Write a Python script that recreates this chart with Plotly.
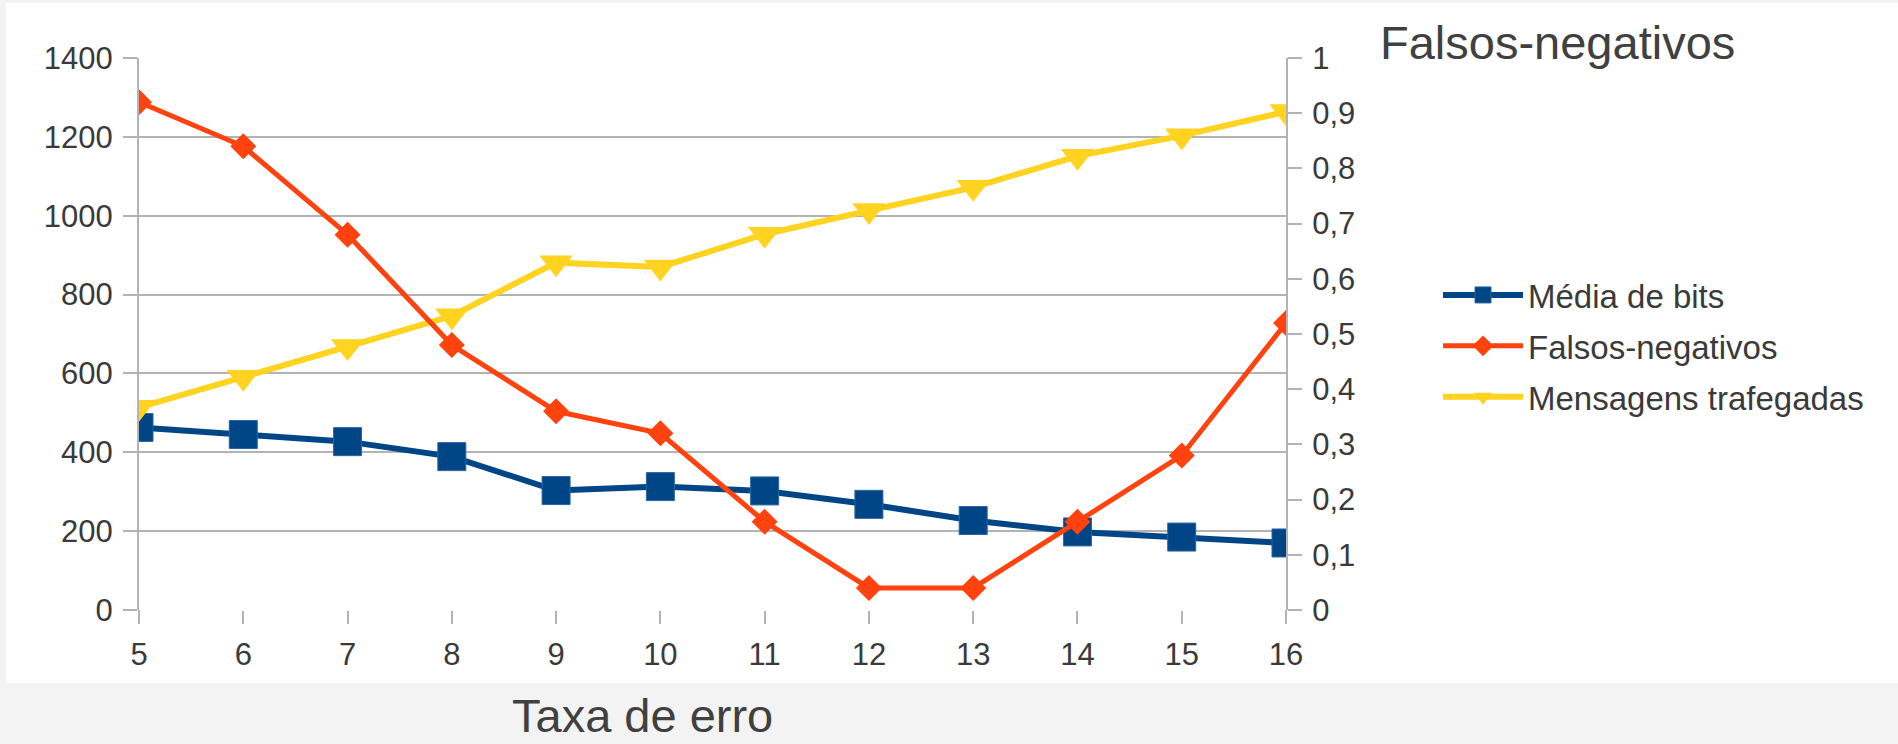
import plotly.graph_objects as go

# ---- data ----
taxa_erro = [5, 6, 7, 8, 9, 10, 11, 12, 13, 14, 15, 16]
media_bits = [463, 445, 427, 389, 303, 313, 302, 268, 227, 198, 185, 170]
falsos_negativos = [0.92, 0.84, 0.68, 0.48, 0.36, 0.32, 0.16, 0.04, 0.04, 0.16, 0.28, 0.52]
mensagens_trafegadas = [514, 590, 668, 746, 881, 870, 953, 1013, 1072, 1151, 1203, 1264]

series_names = ["Média de bits", "Falsos-negativos", "Mensagens trafegadas"]
title_text = "Falsos-negativos"
xlabel_text = "Taxa de erro"

# ---- geometry (pixels) ----
W, H = 1898, 744
L, R, T, B = 139, 1286, 58, 610

def px(x):
    return (x - L) / (R - L)

def py(y):
    return (B - y) / (B - T)

FONT = "Liberation Sans, Arial, sans-serif"
GRID = "#b3b3b3"
TXT = "#3a3a3a"

fig = go.Figure()
fig.add_trace(go.Scatter(
    x=taxa_erro, y=media_bits, name=series_names[0], mode="lines+markers",
    line=dict(color="#004586", width=6),
    marker=dict(symbol="square", size=28, color="#004586",
                line=dict(color="#2a65a0", width=1)),
    legendgroup="a", yaxis="y"))
fig.add_trace(go.Scatter(
    x=taxa_erro, y=falsos_negativos, name=series_names[1], mode="lines+markers",
    line=dict(color="#ff420e", width=5),
    marker=dict(symbol="diamond", size=20, color="#ff420e"),
    legendgroup="b", yaxis="y2"))
fig.add_trace(go.Scatter(
    x=taxa_erro, y=mensagens_trafegadas, name=series_names[2], mode="lines+markers",
    line=dict(color="#ffd320", width=6),
    marker=dict(symbol="triangle-down", size=29, color="#ffd320"),
    legendgroup="c", yaxis="y"))

fig.update_layout(
    width=W, height=H,
    margin=dict(l=L, r=W - R, t=T, b=H - B, pad=0),
    paper_bgcolor="#f3f3f3",
    plot_bgcolor="white",
    separators=",.",
    font=dict(family=FONT, size=31, color=TXT),
    showlegend=True,
    legend=dict(
        x=px(1438), y=py(267), xanchor="left", yanchor="top",
        font=dict(family=FONT, size=33, color=TXT),
        itemwidth=80, tracegroupgap=5, bgcolor="rgba(0,0,0,0)",
        traceorder="grouped",
    ),
    xaxis=dict(
        range=[5, 16], dtick=1, tick0=5, showgrid=False, zeroline=False,
        showline=False, ticks="outside", ticklen=13, tickwidth=2, tickcolor=GRID,
        tickfont=dict(size=31, color=TXT), ticklabelstandoff=4,
    ),
    yaxis=dict(
        range=[0, 1400], dtick=200, showgrid=True, gridcolor=GRID, gridwidth=2,
        zeroline=False, showline=True, linecolor=GRID, linewidth=2,
        ticks="outside", ticklen=14, tickwidth=2, tickcolor=GRID,
        tickfont=dict(size=31, color=TXT), ticklabelstandoff=4,
    ),
    yaxis2=dict(
        range=[0, 1], dtick=0.1, overlaying="y", side="right", showgrid=False,
        zeroline=False, showline=True, linecolor=GRID, linewidth=2,
        ticks="outside", ticklen=14, tickwidth=2, tickcolor=GRID,
        tickfont=dict(size=31, color=TXT), ticklabelstandoff=4,
    ),
    shapes=[
        dict(type="rect", xref="paper", yref="paper", layer="below",
             x0=px(6), x1=px(W), y0=py(683), y1=py(3),
             fillcolor="white", line=dict(width=0)),
        dict(type="line", xref="paper", yref="paper", x0=0, x1=0, y0=py(623), y1=0,
             line=dict(color=GRID, width=2)),
        dict(type="line", xref="paper", yref="paper", x0=1, x1=1, y0=py(623), y1=0,
             line=dict(color=GRID, width=2)),
    ],
    annotations=[
        dict(text=title_text, xref="paper", yref="paper", x=px(1378), y=py(43),
             xanchor="left", yanchor="middle", showarrow=False,
             font=dict(family=FONT, size=47, color="#404040")),
        dict(text=xlabel_text, xref="paper", yref="paper", x=px(642), y=py(743),
             xanchor="center", yanchor="bottom", showarrow=False, borderpad=0,
             font=dict(family=FONT, size=47, color="#404040")),
    ],
)

fig.write_html("out.html")
